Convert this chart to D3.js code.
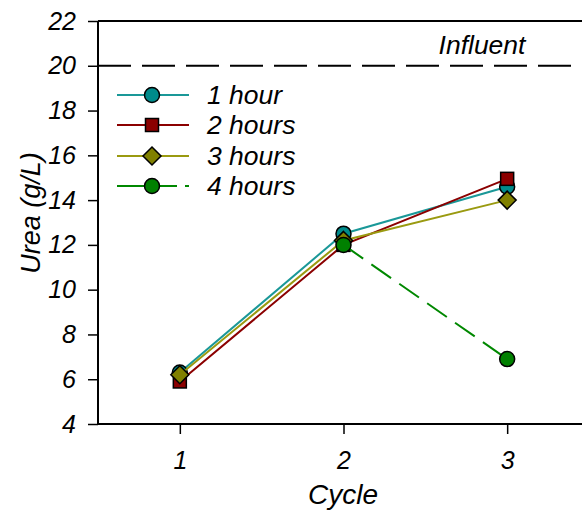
<!DOCTYPE html>
<html><head><meta charset="utf-8">
<script src="https://cdn.jsdelivr.net/npm/d3@7"></script>
<style>body{margin:0;background:#fff}svg{display:block}text{font-family:"Liberation Sans",Arial,sans-serif;font-style:italic;fill:#000}</style>
</head><body><svg id="c" width="582" height="512"></svg>
<script>
const cycles = [1, 2, 3];
const series1h = [6.3, 12.5, 14.6];
const series2h = [5.9, 12.0, 14.95];
const series3h = [6.2, 12.2, 14.0];
const series4h = [null, 12.0, 6.9];
const influent = 20;
const yTicks = [4, 6, 8, 10, 12, 14, 16, 18, 20, 22];
const seriesNames = ["1 hour", "2 hours", "3 hours", "4 hours"];

const svg = d3.select("#c");
const x = d3.scaleLinear().domain([0.5, 3.5]).range([98, 589]);
const y = d3.scaleLinear().domain([4, 22]).range([424, 21]);

const styles = [
  {line:"#1a9898", fill:"#008b8b", shape:"circle", dash:null},
  {line:"#8b0000", fill:"#8b0000", shape:"square", dash:null},
  {line:"#9a9a10", fill:"#808000", shape:"diamond", dash:null},
  {line:"#008800", fill:"#008000", shape:"circle", dash:"24,10"}
];
const allSeries = [series1h, series2h, series3h, series4h];

// frame top
svg.append("line").attr("x1",98).attr("x2",582).attr("y1",y(22)).attr("y2",y(22)).attr("stroke","#000").attr("stroke-width",2);

// axes
const yAxis = d3.axisLeft(y).tickValues(yTicks).tickSize(10).tickPadding(12);
const gy = svg.append("g").attr("transform","translate(98,0)").call(yAxis);
gy.select(".domain").attr("stroke-width",2).attr("d","M0,"+y(4)+"V"+y(22));
gy.selectAll(".tick line").attr("stroke-width",1.5);
gy.selectAll("text").style("font-size","25px");

const xAxis = d3.axisBottom(x).tickValues(cycles).tickFormat(d3.format("d")).tickSize(10).tickPadding(17).tickSizeOuter(0);
const gx = svg.append("g").attr("transform","translate(0,424)").call(xAxis);
gx.select(".domain").attr("stroke-width",2).attr("d","M98,0H582");
gx.selectAll(".tick line").attr("stroke-width",1.5);
gx.selectAll("text").style("font-size","25px");

// influent line
svg.append("line").attr("x1",98).attr("x2",582).attr("y1",y(influent)).attr("y2",y(influent))
  .attr("stroke","#000").attr("stroke-width",2).attr("stroke-dasharray","33,11");
svg.append("text").attr("x",482).attr("y",54).attr("text-anchor","middle").style("font-size","26.5px").text("Influent");

// titles
svg.append("text").attr("x",343).attr("y",504).attr("text-anchor","middle").style("font-size","28px").text("Cycle");
svg.append("text").attr("transform","translate(40,213) rotate(-90)").attr("text-anchor","middle").style("font-size","27px").text("Urea (g/L)");

function marker(g, shape, cx, cy, fill){
  if(shape==="circle") g.append("circle").attr("cx",cx).attr("cy",cy).attr("r",7.5).attr("fill",fill).attr("stroke","#000").attr("stroke-width",1.5);
  else if(shape==="square") g.append("rect").attr("x",cx-6.5).attr("y",cy-6.5).attr("width",13).attr("height",13).attr("fill",fill).attr("stroke","#000").attr("stroke-width",1.5);
  else g.append("path").attr("d",`M${cx},${cy-9}L${cx+9},${cy}L${cx},${cy+9}L${cx-9},${cy}Z`).attr("fill",fill).attr("stroke","#000").attr("stroke-width",1.5);
}

const line = d3.line().defined(d=>d.v!=null).x(d=>x(d.c)).y(d=>y(d.v));
allSeries.forEach((s,i)=>{
  const st = styles[i];
  const pts = cycles.map((c,j)=>({c, v:s[j]}));
  const g = svg.append("g");
  g.append("path").attr("d",line(pts)).attr("fill","none").attr("stroke",st.line).attr("stroke-width",2)
    .attr("stroke-dasharray",st.dash);
  pts.filter(d=>d.v!=null).forEach(d=>marker(g, st.shape, x(d.c), y(d.v), st.fill));
});

// legend
const legY = [95, 125, 156, 186];
seriesNames.forEach((n,i)=>{
  const st = styles[i];
  const g = svg.append("g");
  g.append("line").attr("x1",117).attr("x2",189).attr("y1",legY[i]).attr("y2",legY[i])
    .attr("stroke",st.line).attr("stroke-width",2).attr("stroke-dasharray",st.dash ? "60,8,6" : null);
  marker(g, st.shape, 152, legY[i], st.fill);
  g.append("text").attr("x",207).attr("y",legY[i]+9).style("font-size","26.5px").text(n);
});
</script></body></html>
